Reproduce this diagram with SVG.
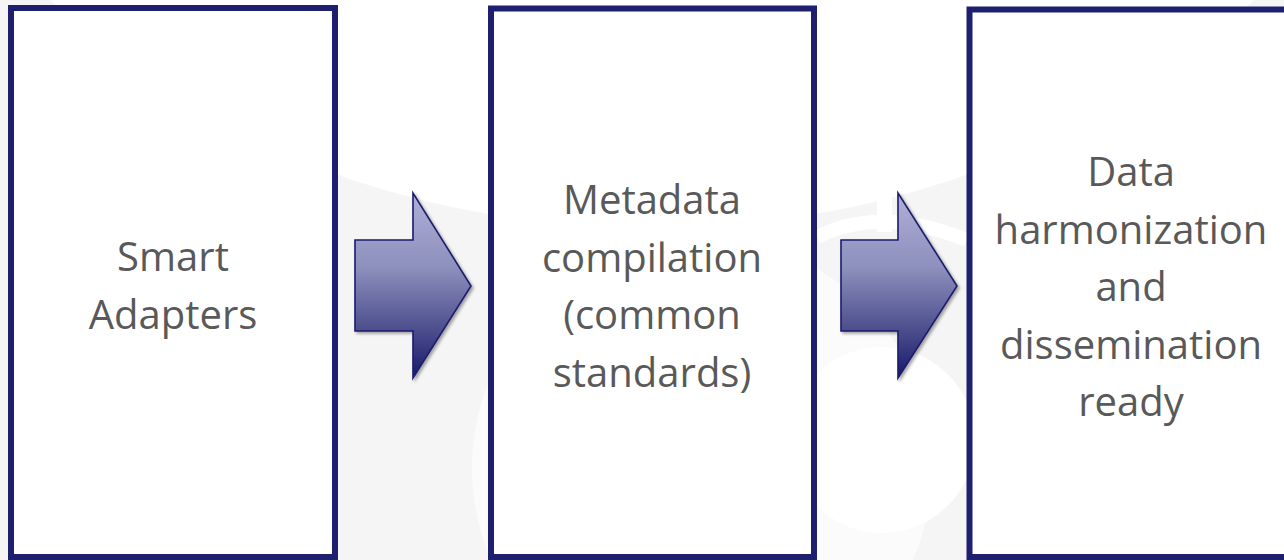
<svg xmlns="http://www.w3.org/2000/svg" width="1284" height="560" viewBox="0 0 1284 560">
  <style>
    .box { fill: #ffffff; stroke: #1e1f6e; stroke-width: 6; }
    .lbl { font-family: "Open Sans", "Liberation Sans", sans-serif; font-size: 40px; fill: #595959; text-anchor: middle; }
    .arrow { fill: url(#arrowGrad); stroke: #1c1c6b; stroke-width: 1.6; stroke-linejoin: miter; filter: url(#shadow); }
    .wm { fill: #ffffff; }
  </style>
  <defs>
    <linearGradient id="arrowGrad" x1="0" y1="0" x2="0" y2="1">
      <stop offset="0" stop-color="#aeb0d8"/>
      <stop offset="0.4" stop-color="#8e90bd"/>
      <stop offset="0.75" stop-color="#4a4c8c"/>
      <stop offset="1" stop-color="#17186d"/>
    </linearGradient>
    <filter id="shadow" x="-20%" y="-20%" width="140%" height="140%">
      <feDropShadow dx="2" dy="2" stdDeviation="1.5" flood-color="#000000" flood-opacity="0.35"/>
    </filter>
  </defs>

  <g id="background">
    <rect x="0" y="0" width="1284" height="560" fill="#f5f5f5"/>
    <ellipse class="wm" cx="652" cy="-400" rx="781" ry="628"/>
    <circle class="wm" cx="702" cy="468" r="230" opacity="0.6"/>
    <circle class="wm" cx="882" cy="440" r="93"/>
    <rect class="wm" x="877" y="182" width="15" height="50"/>
    <path d="M817,237 Q880,205 967,240" fill="none" stroke="#ffffff" stroke-width="14"/>
  </g>

  <g id="connectors">
    <path class="arrow" d="M355,240 H413 V193 L471,286 L413,378 V331 H355 Z"/>
    <path class="arrow" d="M841,240 H898 V193 L957,286 L898,378 V331 H841 Z"/>
  </g>

  <g id="node-smart-adapters">
    <rect class="box" x="11" y="8" width="324" height="549"/>
    <text class="lbl" x="173" y="271">Smart</text>
    <text class="lbl" x="173" y="329">Adapters</text>
  </g>

  <g id="node-metadata">
    <rect class="box" x="491" y="8.5" width="323" height="548.5"/>
    <text class="lbl" x="652" y="214">Metadata</text>
    <text class="lbl" x="652" y="271.5">compilation</text>
    <text class="lbl" x="652" y="329">(common</text>
    <text class="lbl" x="652" y="386.5">standards)</text>
  </g>

  <g id="node-data-harmonization">
    <rect class="box" x="969.5" y="9.5" width="330" height="547.5"/>
    <text class="lbl" x="1131" y="186">Data</text>
    <text class="lbl" x="1131" y="243.5">harmonization</text>
    <text class="lbl" x="1131" y="301">and</text>
    <text class="lbl" x="1131" y="358.5">dissemination</text>
    <text class="lbl" x="1131" y="416">ready</text>
  </g>
</svg>
